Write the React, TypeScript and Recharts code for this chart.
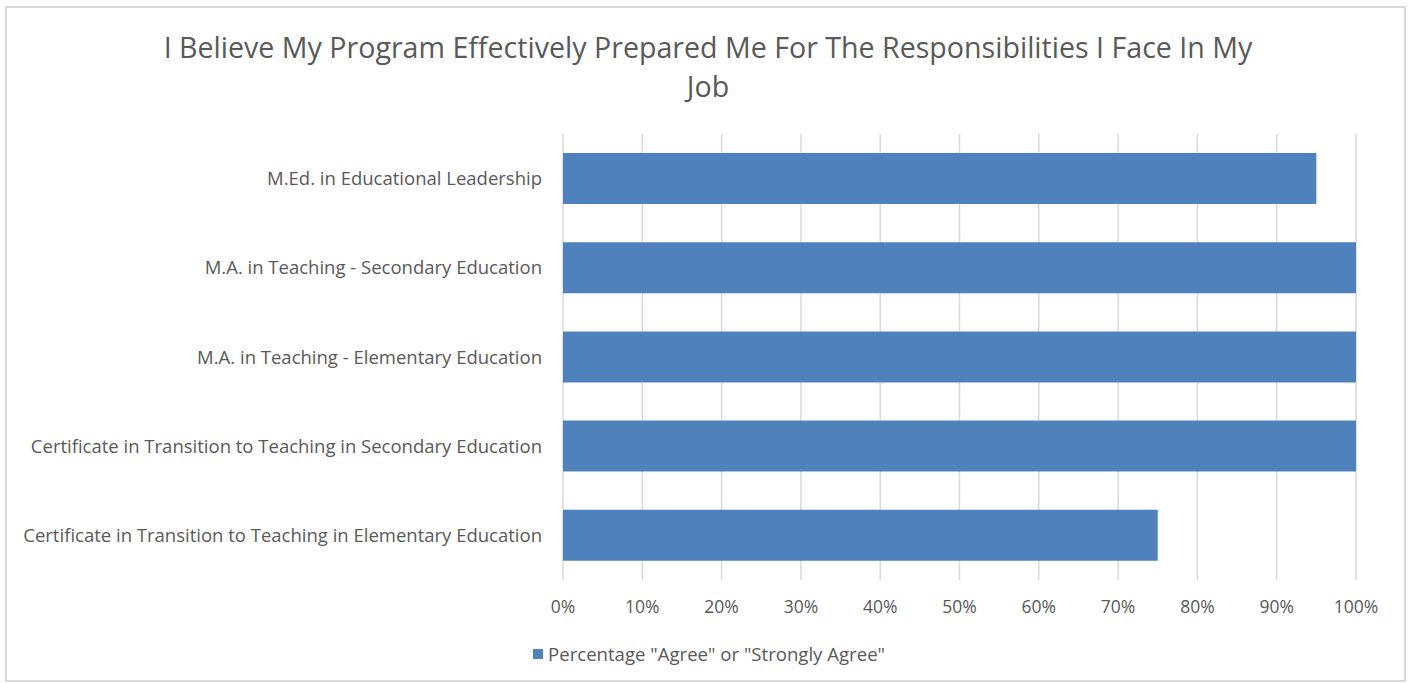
import React from "react";
import { Bar, BarChart, CartesianGrid, Legend, XAxis, YAxis } from "recharts";

const programs = [
  "M.Ed. in Educational Leadership",
  "M.A. in Teaching - Secondary Education",
  "M.A. in Teaching - Elementary Education",
  "Certificate in Transition to Teaching in Secondary Education",
  "Certificate in Transition to Teaching in Elementary Education",
];
const agreeShare = [0.95, 1, 1, 1, 0.75];
const xTicks = [0, 0.1, 0.2, 0.3, 0.4, 0.5, 0.6, 0.7, 0.8, 0.9, 1];

const seriesName = 'Percentage "Agree" or "Strongly Agree"';
const data = programs.map((program, i) => ({ program, value: agreeShare[i] }));

const FONT = "'Open Sans', sans-serif";
const TEXT = "#595959";
const BLUE = "#4f81bd";

function LegendBox() {
  return (
    <div style={{ display: "flex", alignItems: "center", fontFamily: FONT, fontSize: 18.6, color: TEXT, whiteSpace: "nowrap" }}>
      <span style={{ width: 10, height: 10, background: BLUE, marginRight: 5, display: "inline-block" }} />
      {seriesName}
    </div>
  );
}

export default function App() {
  return (
    <div style={{ position: "absolute", left: 0, top: 0, width: 1410, height: 683, background: "#fff" }}>
      <div
        style={{
          position: "absolute",
          left: 5,
          top: 6,
          width: 1397,
          height: 672,
          border: "2px solid #d9d9d9",
        }}
      />
      <div
        style={{
          position: "absolute",
          left: 0,
          top: 27,
          width: 1416,
          textAlign: "center",
          fontFamily: FONT,
          fontSize: 28.6,
          lineHeight: "39px",
          color: TEXT,
          whiteSpace: "nowrap",
        }}
      >
        I Believe My Program Effectively Prepared Me For The Responsibilities I Face In My
        <br />
        Job
      </div>
      <div style={{ position: "absolute", left: 0, top: 0 }}>
        <BarChart
          width={1410}
          height={683}
          data={data}
          layout="vertical"
          barSize={51}
          margin={{ top: 134, right: 54, bottom: 73, left: 0 }}
        >
          <CartesianGrid horizontal={false} stroke="#d9d9d9" strokeWidth={1.5} />
          <XAxis
            type="number"
            domain={[0, 1]}
            ticks={xTicks}
            tickFormatter={(v) => `${Math.round(v * 100)}%`}
            axisLine={false}
            tickLine={false}
            tickMargin={15}
            height={30}
            tick={{ fill: TEXT, fontSize: 17.5, fontFamily: FONT }}
            interval={0}
          />
          <YAxis
            type="category"
            dataKey="program"
            width={563}
            axisLine={false}
            tickLine={false}
            tickMargin={15}
            tick={{ fill: TEXT, fontSize: 18.5, fontFamily: FONT }}
            interval={0}
          />
          <Legend
            layout="horizontal"
            verticalAlign="middle"
            align="center"
            wrapperStyle={{ position: "absolute", top: 641, left: 533, width: "auto" }}
            content={() => <LegendBox />}
          />
          <Bar dataKey="value" name={seriesName} fill={BLUE} isAnimationActive={false} />
        </BarChart>
      </div>
    </div>
  );
}
